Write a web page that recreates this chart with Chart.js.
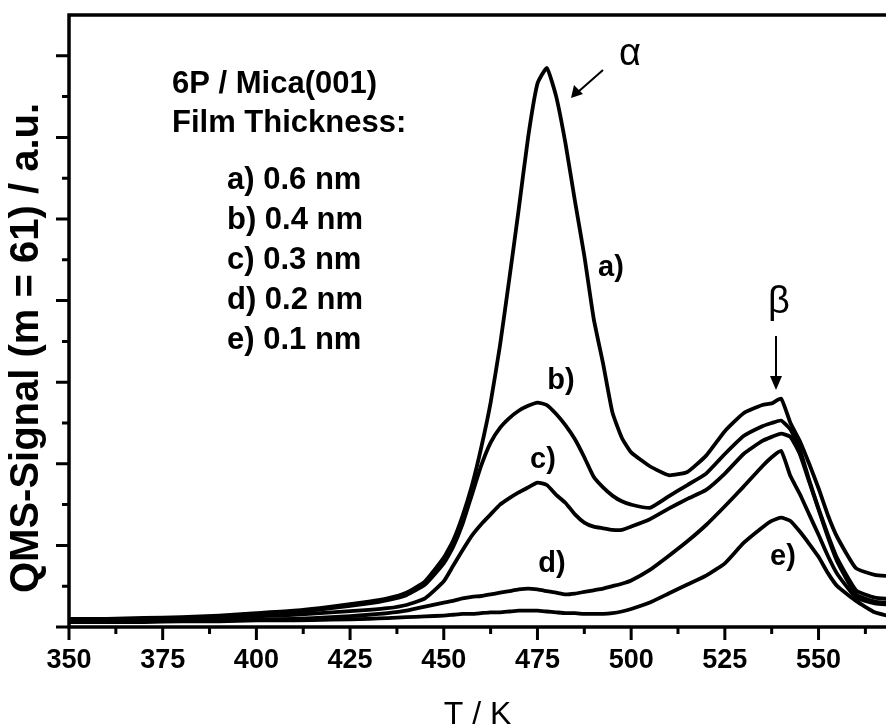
<!DOCTYPE html>
<html>
<head>
<meta charset="utf-8">
<script src="https://cdn.jsdelivr.net/npm/chart.js@4.4.1/dist/chart.umd.min.js"></script>
<style>
  html, body { margin: 0; padding: 0; background: #fff; }
  canvas { display: block; }
</style>
</head>
<body>
<canvas id="tpdChart" width="886" height="726"></canvas>
<script>
// temperature grid (K), shared by all five desorption traces
var temps = [350, 360, 370, 380, 390, 400, 410, 420, 430, 435, 440, 445, 450,
  452.5, 455, 457.5, 460, 462.5, 465, 467.5, 470, 472.5, 475, 477.5, 480, 482.5, 485, 487.5, 490, 492.5, 495, 497.5, 500,
  505, 510, 515, 520, 525, 530, 535,
  537.5, 540, 542.5, 545, 547.5, 550, 552.5, 555,
  560, 565, 570];

// QMS signal (a.u.)
var sigA = [0.10, 0.10, 0.11, 0.12, 0.14, 0.17, 0.20, 0.25, 0.31, 0.35, 0.42, 0.56, 0.85,
  1.06, 1.36, 1.73, 2.20, 2.75, 3.45, 4.27, 5.12, 6.00, 6.66, 6.85, 6.50, 5.92, 5.22, 4.55, 3.78, 3.23, 2.63, 2.32, 2.14,
  1.97, 1.86, 1.90, 2.10, 2.40, 2.62, 2.72,
  2.74, 2.80, 2.50, 2.28, 2.00, 1.70, 1.37, 1.10,
  0.72, 0.64, 0.62];
var sigB = [0.09, 0.09, 0.10, 0.11, 0.12, 0.15, 0.18, 0.23, 0.29, 0.33, 0.39, 0.52, 0.78,
  0.98, 1.26, 1.62, 1.98, 2.26, 2.44, 2.56, 2.65, 2.71, 2.75, 2.72, 2.61, 2.47, 2.30, 2.08, 1.84, 1.71, 1.61, 1.54, 1.50,
  1.46, 1.60, 1.74, 1.88, 2.12, 2.34, 2.46,
  2.50, 2.53, 2.42, 2.18, 1.80, 1.45, 1.13, 0.84,
  0.45, 0.36, 0.34];
var sigC = [0.08, 0.08, 0.09, 0.10, 0.11, 0.13, 0.15, 0.18, 0.21, 0.23, 0.27, 0.35, 0.56,
  0.75, 0.94, 1.12, 1.26, 1.38, 1.50, 1.58, 1.65, 1.71, 1.77, 1.74, 1.62, 1.52, 1.38, 1.28, 1.23, 1.21, 1.19, 1.19, 1.23,
  1.32, 1.45, 1.57, 1.68, 1.88, 2.12, 2.28,
  2.33, 2.37, 2.33, 2.12, 1.78, 1.44, 1.10, 0.80,
  0.40, 0.31, 0.29];
var sigD = [0.07, 0.07, 0.07, 0.08, 0.08, 0.09, 0.10, 0.12, 0.15, 0.17, 0.20, 0.25, 0.30,
  0.32, 0.35, 0.37, 0.38, 0.40, 0.42, 0.44, 0.46, 0.47, 0.46, 0.44, 0.42, 0.40, 0.41, 0.43, 0.45, 0.47, 0.50, 0.53, 0.57,
  0.70, 0.87, 1.05, 1.25, 1.48, 1.72, 1.97,
  2.08, 2.16, 1.85, 1.63, 1.38, 1.13, 0.87, 0.65,
  0.36, 0.29, 0.27];
var sigE = [0.06, 0.06, 0.06, 0.07, 0.07, 0.08, 0.08, 0.09, 0.10, 0.11, 0.12, 0.13, 0.14,
  0.15, 0.16, 0.16, 0.17, 0.18, 0.18, 0.19, 0.20, 0.20, 0.20, 0.19, 0.18, 0.17, 0.17, 0.16, 0.16, 0.16, 0.17, 0.19, 0.22,
  0.30, 0.41, 0.52, 0.63, 0.78, 1.03, 1.22,
  1.30, 1.34, 1.30, 1.17, 1.02, 0.86, 0.66, 0.50,
  0.32, 0.18, 0.12];

var xTicks = [350, 375, 400, 425, 450, 475, 500, 525, 550];
var legendLines = ['a) 0.6 nm', 'b) 0.4 nm', 'c) 0.3 nm', 'd) 0.2 nm', 'e) 0.1 nm'];

var FONT = "'Liberation Sans', Arial, sans-serif";
Chart.defaults.font.family = FONT;
Chart.defaults.color = '#000';

function toPoints(vals) {
  return temps.map(function (t, i) { return { x: t, y: vals[i] }; });
}

function trace(vals) {
  return {
    data: toPoints(vals),
    borderColor: '#000',
    borderWidth: 3.8,
    pointRadius: 0,
    tension: 0.15,
    fill: false
  };
}

// axis frame, tick marks and text annotations
var frame = {
  id: 'frame',
  afterDatasetsDraw: function (chart) {
    var c = chart.ctx, area = chart.chartArea;
    var xs = chart.scales.x, ys = chart.scales.y;
    c.save();
    c.strokeStyle = '#000';
    c.fillStyle = '#000';

    c.lineWidth = 3.5;
    c.lineJoin = 'miter';
    c.beginPath();
    c.moveTo(area.right + 2, area.top);
    c.lineTo(area.left, area.top);
    c.lineTo(area.left, area.bottom);
    c.lineTo(area.right + 2, area.bottom);
    c.stroke();

    c.lineWidth = 3;
    c.beginPath();
    for (var t = 350; t < 568; t += 12.5) {
      var px = xs.getPixelForValue(t);
      var len = (t % 25 === 0) ? 13 : 7;
      c.moveTo(px, area.bottom);
      c.lineTo(px, area.bottom + len);
    }
    for (var v = 0; v <= 7; v += 0.5) {
      var py = ys.getPixelForValue(v);
      var ylen = (v % 1 === 0) ? 13 : 7;
      c.moveTo(area.left, py);
      c.lineTo(area.left - ylen, py);
    }
    c.stroke();

    // y axis title
    c.save();
    c.translate(27, 348);
    c.rotate(-Math.PI / 2);
    c.font = 'bold 40px ' + FONT;
    c.textAlign = 'center';
    c.textBaseline = 'middle';
    c.fillText('QMS-Signal (m = 61) / a.u.', 0, 0);
    c.restore();

    // sample description
    c.font = 'bold 31px ' + FONT;
    c.textAlign = 'left';
    c.textBaseline = 'middle';
    c.fillText('6P / Mica(001)', 172, 84);
    c.fillText('Film Thickness:', 172, 123);
    legendLines.forEach(function (s, i) {
      c.fillText(s, 227, 180 + i * 40);
    });

    // curve labels
    c.font = 'bold 29px ' + FONT;
    c.textAlign = 'center';
    c.fillText('a)', 611, 268);
    c.fillText('b)', 561, 381);
    c.fillText('c)', 543, 460);
    c.fillText('d)', 552, 564);
    c.fillText('e)', 783, 557);

    // peak markers
    c.font = '38px ' + FONT;
    c.fillText('\u03B1', 630, 55);
    c.fillText('\u03B2', 779, 303);

    c.lineWidth = 2;
    c.beginPath();
    c.moveTo(603, 70); c.lineTo(578, 92);
    c.moveTo(776, 336); c.lineTo(776, 380);
    c.stroke();
    c.beginPath();
    c.moveTo(571, 98); c.lineTo(574, 85); c.lineTo(583, 94); c.closePath();
    c.moveTo(776, 390); c.lineTo(770, 376); c.lineTo(782, 376); c.closePath();
    c.fill();

    c.restore();
  }
};

var ctx = document.getElementById('tpdChart').getContext('2d');
var chart = new Chart(ctx, {
  type: 'line',
  data: {
    datasets: [trace(sigA), trace(sigB), trace(sigC), trace(sigD), trace(sigE)]
  },
  options: {
    responsive: false,
    animation: false,
    layout: { padding: { top: 15, left: 0, right: 0, bottom: 0 } },
    plugins: {
      legend: { display: false },
      tooltip: { enabled: false }
    },
    scales: {
      x: {
        type: 'linear',
        min: 350,
        max: 568,
        afterBuildTicks: function (s) {
          s.ticks = xTicks.map(function (v) { return { value: v }; });
        },
        afterFit: function (s) { s.height = 99; },
        grid: { display: false, drawTicks: false },
        border: { display: false },
        ticks: {
          font: { size: 27, weight: 'bold' },
          color: '#000',
          padding: 17,
          maxRotation: 0,
          autoSkip: false
        },
        title: {
          display: true,
          text: 'T / K',
          color: '#000',
          font: { size: 32, weight: 'normal', lineHeight: 0.7 },
          padding: 0
        }
      },
      y: {
        min: 0,
        max: 7.5,
        afterFit: function (s) { s.width = 69; },
        grid: { display: false, drawTicks: false },
        border: { display: false },
        ticks: { display: false }
      }
    }
  },
  plugins: [frame]
});
</script>
</body>
</html>
